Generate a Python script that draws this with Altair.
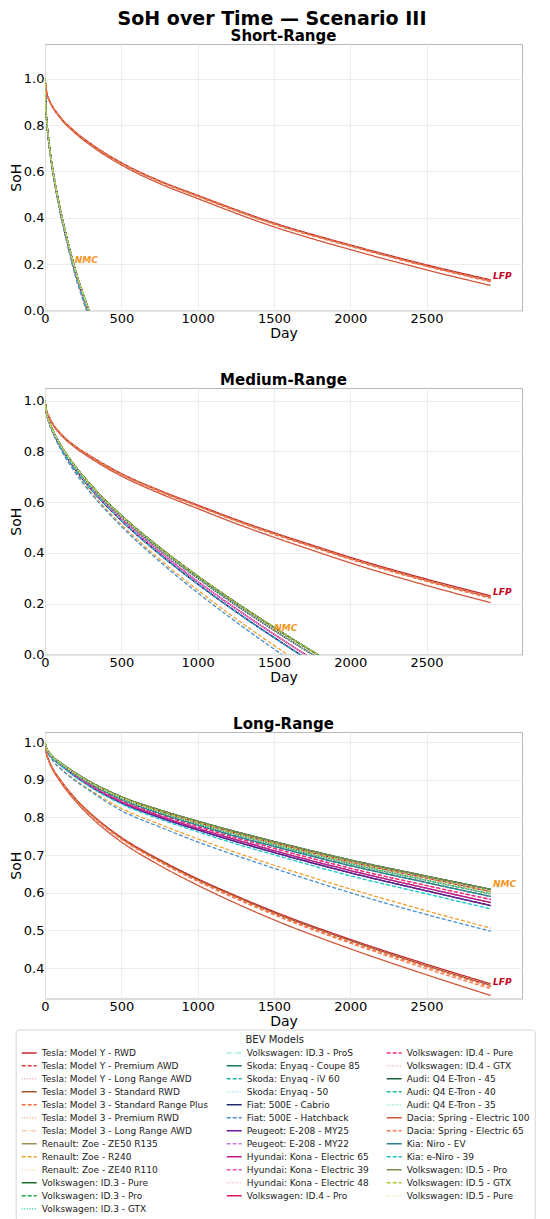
import altair as alt
import pandas as pd

# ------------------------------------------------------------------ series
MODELS = [
    "Tesla: Model Y - RWD", "Tesla: Model Y - Premium AWD", "Tesla: Model Y - Long Range AWD",
    "Tesla: Model 3 - Standard RWD", "Tesla: Model 3 - Standard Range Plus",
    "Tesla: Model 3 - Premium RWD", "Tesla: Model 3 - Long Range AWD",
    "Renault: Zoe - ZE50 R135", "Renault: Zoe - R240", "Renault: Zoe - ZE40 R110",
    "Volkswagen: ID.3 - Pure", "Volkswagen: ID.3 - Pro", "Volkswagen: ID.3 - GTX",
    "Volkswagen: ID.3 - ProS", "Skoda: Enyaq - Coupe 85", "Skoda: Enyaq - iV 60",
    "Skoda: Enyaq - 50", "Fiat: 500E - Cabrio", "Fiat: 500E - Hatchback",
    "Peugeot: E-208 - MY25", "Peugeot: E-208 - MY22", "Hyundai: Kona - Electric 65",
    "Hyundai: Kona - Electric 39", "Hyundai: Kona - Electric 48", "Volkswagen: ID.4 - Pro",
    "Volkswagen: ID.4 - Pure", "Volkswagen: ID.4 - GTX", "Audi: Q4 E-Tron - 45",
    "Audi: Q4 E-Tron - 40", "Audi: Q4 E-Tron - 35", "Dacia: Spring - Electric 100",
    "Dacia: Spring - Electric 65", "Kia: Niro - EV", "Kia: e-Niro - 39",
    "Volkswagen: ID.5 - Pro", "Volkswagen: ID.5 - GTX", "Volkswagen: ID.5 - Pure",
]
COLORS = [
    "#c8282f", "#e8383f", "#f2a9b6", "#a8552d", "#f26b3a", "#f8b07c", "#f8cbae",
    "#a08a5a", "#f0a030", "#f4e09a", "#1e6b2e", "#20a84a", "#3ddc97", "#a4efcf",
    "#1a7a5e", "#20b3a6", "#9ee8f0", "#1f2a6e", "#4a8fc9", "#6a1b9a", "#c77be0",
    "#c2188b", "#f04fbf", "#f4b6e0", "#d81b60", "#f0306e", "#f7b0c6", "#17603a",
    "#20c080", "#80efd0", "#d0573c", "#f47c52", "#2b7f8e", "#19c3c8", "#7f8a4f",
    "#b5c43a", "#e1efa0",
]
DASHES = [
    "solid", "dash", "dot", "solid", "dash", "dot", "dashdot",
    "solid", "dash", "dot",
    "solid", "dash", "dot", "dashdot",
    "solid", "dash", "dot",
    "solid", "dash",
    "solid", "dash",
    "solid", "dash", "dot",
    "solid", "dash", "dot",
    "solid", "dash", "dot",
    "solid", "dash",
    "solid", "dash",
    "solid", "dash", "dot",
]
DASH_PATTERNS = {"solid": [1, 0], "dash": [4, 2], "dot": [1, 1.6], "dashdot": [5, 1.6, 1, 1.6]}

# ------------------------------------------------------------------ curves
# Short-Range
DAYS_S_LFP = [0, 10, 25, 50, 100, 200, 300, 500, 750, 1000, 1500, 2000, 2500, 2920]
S_LFP_A = [1.0, 0.945, 0.912, 0.880, 0.835, 0.770, 0.720, 0.638, 0.560, 0.497, 0.378, 0.283, 0.197, 0.132]
S_LFP_B = [1.0, 0.945, 0.912, 0.879, 0.834, 0.769, 0.719, 0.636, 0.558, 0.495, 0.375, 0.280, 0.193, 0.128]
S_LFP_C = [1.0, 0.945, 0.911, 0.879, 0.834, 0.768, 0.717, 0.635, 0.556, 0.492, 0.372, 0.277, 0.190, 0.124]
S_LFP_D = [1.0, 0.943, 0.910, 0.877, 0.830, 0.764, 0.712, 0.628, 0.548, 0.483, 0.361, 0.263, 0.175, 0.108]
DAYS_S_NMC = [0, 5, 10, 25, 50, 75, 100, 150, 200, 250, 300]
S_NMC_A = [1.0, 0.880, 0.830, 0.730, 0.612, 0.518, 0.436, 0.296, 0.172, 0.071, -0.024]
S_NMC_B = [1.0, 0.878, 0.827, 0.726, 0.606, 0.511, 0.428, 0.285, 0.160, 0.057, -0.039]
S_NMC_C = [1.0, 0.876, 0.825, 0.722, 0.600, 0.504, 0.419, 0.275, 0.147, 0.043, -0.055]

# Medium-Range
DAYS_M_LFP = [0, 10, 25, 50, 100, 200, 300, 500, 750, 1000, 1250, 1500, 1750, 2000, 2500, 2920]
M_LFP_A = [1.0, 0.962, 0.938, 0.910, 0.872, 0.820, 0.781, 0.713, 0.647, 0.589, 0.532, 0.480, 0.431, 0.383, 0.297, 0.231]
M_LFP_B = [1.0, 0.962, 0.938, 0.909, 0.871, 0.819, 0.780, 0.711, 0.645, 0.586, 0.529, 0.477, 0.427, 0.379, 0.292, 0.226]
M_LFP_C = [1.0, 0.962, 0.937, 0.909, 0.870, 0.818, 0.778, 0.709, 0.642, 0.584, 0.526, 0.473, 0.424, 0.375, 0.288, 0.221]
M_LFP_D = [1.0, 0.961, 0.936, 0.907, 0.868, 0.814, 0.773, 0.703, 0.635, 0.575, 0.516, 0.462, 0.411, 0.361, 0.272, 0.204]
DAYS_M_NMC = [0, 10, 25, 50, 100, 200, 300, 500, 750, 1000, 1250, 1500, 1750, 2000]
M_NMC_A = [1.0, 0.952, 0.922, 0.885, 0.828, 0.740, 0.668, 0.548, 0.422, 0.309, 0.205, 0.107, 0.013, -0.078]
M_NMC_B = [1.0, 0.951, 0.921, 0.884, 0.826, 0.737, 0.664, 0.543, 0.415, 0.301, 0.195, 0.096, 0.001, -0.091]
M_NMC_C = [1.0, 0.951, 0.920, 0.882, 0.823, 0.732, 0.658, 0.534, 0.405, 0.288, 0.181, 0.080, -0.017, -0.110]
M_NMC_D = [1.0, 0.950, 0.918, 0.880, 0.820, 0.728, 0.653, 0.528, 0.396, 0.278, 0.169, 0.067, -0.031, -0.127]
M_NMC_E = [1.0, 0.948, 0.916, 0.876, 0.814, 0.719, 0.641, 0.512, 0.376, 0.254, 0.141, 0.036, -0.066, -0.164]
M_NMC_F = [1.0, 0.947, 0.915, 0.874, 0.812, 0.715, 0.636, 0.505, 0.367, 0.243, 0.129, 0.022, -0.081, -0.180]

# Long-Range
DAYS_L = [0, 10, 25, 50, 100, 200, 300, 500, 750, 1000, 1250, 1500, 2000, 2500, 2920]
L_LFP_A = [1.0, 0.970, 0.952, 0.930, 0.900, 0.850, 0.810, 0.747, 0.688, 0.637, 0.592, 0.550, 0.476, 0.410, 0.358]
L_LFP_B = [1.0, 0.970, 0.952, 0.930, 0.899, 0.849, 0.809, 0.745, 0.686, 0.635, 0.590, 0.547, 0.473, 0.406, 0.354]
L_LFP_C = [1.0, 0.970, 0.951, 0.929, 0.899, 0.848, 0.808, 0.744, 0.684, 0.632, 0.587, 0.544, 0.469, 0.403, 0.350]
L_LFP_D = [1.0, 0.969, 0.951, 0.929, 0.898, 0.847, 0.806, 0.742, 0.682, 0.630, 0.584, 0.541, 0.466, 0.398, 0.345]
L_LFP_E = [1.0, 0.969, 0.950, 0.927, 0.895, 0.843, 0.801, 0.735, 0.673, 0.620, 0.572, 0.528, 0.451, 0.382, 0.327]
L_NMC_1 = [1.0, 0.984, 0.974, 0.962, 0.946, 0.918, 0.894, 0.855, 0.820, 0.790, 0.762, 0.736, 0.687, 0.644, 0.609]
L_NMC_2 = [1.0, 0.984, 0.974, 0.961, 0.945, 0.917, 0.892, 0.853, 0.817, 0.787, 0.758, 0.732, 0.682, 0.639, 0.603]
L_NMC_3 = [1.0, 0.984, 0.973, 0.961, 0.944, 0.915, 0.891, 0.851, 0.814, 0.783, 0.755, 0.728, 0.677, 0.633, 0.597]
L_NMC_4 = [1.0, 0.983, 0.973, 0.960, 0.943, 0.914, 0.889, 0.848, 0.811, 0.780, 0.750, 0.723, 0.672, 0.627, 0.590]
L_NMC_5 = [1.0, 0.983, 0.972, 0.959, 0.942, 0.912, 0.887, 0.845, 0.808, 0.776, 0.746, 0.718, 0.665, 0.619, 0.582]
L_NMC_6 = [1.0, 0.983, 0.972, 0.959, 0.941, 0.911, 0.884, 0.842, 0.804, 0.771, 0.741, 0.712, 0.659, 0.612, 0.574]
L_NMC_7 = [1.0, 0.982, 0.971, 0.958, 0.940, 0.909, 0.882, 0.839, 0.800, 0.767, 0.736, 0.707, 0.653, 0.605, 0.566]
L_NMC_8 = [1.0, 0.982, 0.971, 0.957, 0.939, 0.907, 0.880, 0.836, 0.796, 0.762, 0.730, 0.701, 0.645, 0.597, 0.557]
L_NMC_9 = [1.0, 0.980, 0.967, 0.952, 0.931, 0.899, 0.872, 0.824, 0.782, 0.743, 0.707, 0.673, 0.610, 0.552, 0.506]
L_NMC_10 = [1.0, 0.980, 0.967, 0.951, 0.930, 0.897, 0.869, 0.818, 0.775, 0.735, 0.699, 0.665, 0.600, 0.542, 0.498]

PROFILES = {
    "S_LFP_A": (DAYS_S_LFP, S_LFP_A), "S_LFP_B": (DAYS_S_LFP, S_LFP_B),
    "S_LFP_C": (DAYS_S_LFP, S_LFP_C), "S_LFP_D": (DAYS_S_LFP, S_LFP_D),
    "S_NMC_A": (DAYS_S_NMC, S_NMC_A), "S_NMC_B": (DAYS_S_NMC, S_NMC_B), "S_NMC_C": (DAYS_S_NMC, S_NMC_C),
    "M_LFP_A": (DAYS_M_LFP, M_LFP_A), "M_LFP_B": (DAYS_M_LFP, M_LFP_B),
    "M_LFP_C": (DAYS_M_LFP, M_LFP_C), "M_LFP_D": (DAYS_M_LFP, M_LFP_D),
    "M_NMC_A": (DAYS_M_NMC, M_NMC_A), "M_NMC_B": (DAYS_M_NMC, M_NMC_B), "M_NMC_C": (DAYS_M_NMC, M_NMC_C),
    "M_NMC_D": (DAYS_M_NMC, M_NMC_D), "M_NMC_E": (DAYS_M_NMC, M_NMC_E), "M_NMC_F": (DAYS_M_NMC, M_NMC_F),
    "L_LFP_A": (DAYS_L, L_LFP_A), "L_LFP_B": (DAYS_L, L_LFP_B), "L_LFP_C": (DAYS_L, L_LFP_C),
    "L_LFP_D": (DAYS_L, L_LFP_D), "L_LFP_E": (DAYS_L, L_LFP_E),
    "L_NMC_1": (DAYS_L, L_NMC_1), "L_NMC_2": (DAYS_L, L_NMC_2), "L_NMC_3": (DAYS_L, L_NMC_3),
    "L_NMC_4": (DAYS_L, L_NMC_4), "L_NMC_5": (DAYS_L, L_NMC_5), "L_NMC_6": (DAYS_L, L_NMC_6),
    "L_NMC_7": (DAYS_L, L_NMC_7), "L_NMC_8": (DAYS_L, L_NMC_8), "L_NMC_9": (DAYS_L, L_NMC_9),
    "L_NMC_10": (DAYS_L, L_NMC_10),
}

# which curve each model follows in each panel (same order as MODELS)
SHORT_CURVE = [
    "S_LFP_A", "S_NMC_A", "S_NMC_A", "S_LFP_B", "S_LFP_C", "S_NMC_A", "S_NMC_A",
    "S_NMC_B", "S_NMC_C", "S_NMC_B", "S_NMC_A", "S_NMC_A", "S_NMC_A", "S_NMC_A",
    "S_NMC_A", "S_NMC_B", "S_NMC_B", "S_NMC_B", "S_NMC_C", "S_NMC_B", "S_NMC_B",
    "S_NMC_A", "S_NMC_B", "S_NMC_B", "S_NMC_A", "S_NMC_A", "S_NMC_A", "S_NMC_A",
    "S_NMC_A", "S_NMC_A", "S_LFP_D", "S_LFP_B", "S_NMC_A", "S_NMC_B", "S_NMC_A",
    "S_NMC_A", "S_NMC_A",
]
MEDIUM_CURVE = [
    "M_LFP_A", "M_NMC_B", "M_NMC_A", "M_LFP_B", "M_LFP_C", "M_NMC_B", "M_NMC_A",
    "M_NMC_C", "M_NMC_E", "M_NMC_D", "M_NMC_A", "M_NMC_A", "M_NMC_A", "M_NMC_A",
    "M_NMC_A", "M_NMC_B", "M_NMC_C", "M_NMC_D", "M_NMC_F", "M_NMC_D", "M_NMC_C",
    "M_NMC_C", "M_NMC_C", "M_NMC_C", "M_NMC_B", "M_NMC_B", "M_NMC_B", "M_NMC_A",
    "M_NMC_A", "M_NMC_B", "M_LFP_D", "M_LFP_B", "M_NMC_B", "M_NMC_D", "M_NMC_A",
    "M_NMC_A", "M_NMC_B",
]
LONG_CURVE = [
    "L_LFP_A", "L_NMC_4", "L_NMC_2", "L_LFP_B", "L_LFP_C", "L_NMC_3", "L_NMC_2",
    "L_NMC_6", "L_NMC_9", "L_NMC_7", "L_NMC_1", "L_NMC_1", "L_NMC_2", "L_NMC_1",
    "L_NMC_3", "L_NMC_4", "L_NMC_8", "L_NMC_7", "L_NMC_10", "L_NMC_7", "L_NMC_6",
    "L_NMC_6", "L_NMC_5", "L_NMC_5", "L_NMC_2", "L_NMC_5", "L_NMC_3", "L_NMC_1",
    "L_NMC_3", "L_NMC_4", "L_LFP_E", "L_LFP_D", "L_NMC_4", "L_NMC_8", "L_NMC_1",
    "L_NMC_2", "L_NMC_3",
]

PANELS = ["Short-Range", "Medium-Range", "Long-Range"]
Y_DOMAINS = [[0.0, 1.15], [0.0, 1.05], [0.319, 1.027]]
Y_TICKS = [[0.0, 0.2, 0.4, 0.6, 0.8, 1.0], [0.0, 0.2, 0.4, 0.6, 0.8, 1.0],
           [0.4, 0.5, 0.6, 0.7, 0.8, 0.9, 1.0]]
X_TICKS = [0, 500, 1000, 1500, 2000, 2500]

# chemistry labels: panel, label, day, soh
ANN_PANEL = ["Short-Range", "Short-Range", "Medium-Range", "Medium-Range", "Long-Range", "Long-Range"]
ANN_LABEL = ["NMC", "LFP", "NMC", "LFP", "NMC", "LFP"]
ANN_DAY = [195, 2935, 1502, 2935, 2935, 2935]
ANN_SOH = [0.22, 0.148, 0.103, 0.245, 0.624, 0.363]
NMC_COLOR = "#f5961e"
LFP_COLOR = "#c4001c"

# ------------------------------------------------------------------ build tables
rows = []
for pname, curves in zip(PANELS, [SHORT_CURVE, MEDIUM_CURVE, LONG_CURVE]):
    for i, (m, c) in enumerate(zip(MODELS, curves)):
        days, vals = PROFILES[c]
        for d, v in zip(days, vals):
            rows.append({"panel": pname, "model": m, "idx": i, "day": d, "soh": v})
df = pd.DataFrame(rows)
ann = pd.DataFrame({"panel": ANN_PANEL, "label": ANN_LABEL, "day": ANN_DAY, "soh": ANN_SOH})

# legend: vega fills columns top-to-bottom (13 rows); an empty slot closes column 2
# so the columns hold 13 / 12 / 12 entries like the reference
BLANK = " "
LEG_DOMAIN = MODELS[:25] + [BLANK] + MODELS[25:]
LEG_COLORS = COLORS[:25] + ["rgba(0,0,0,0)"] + COLORS[25:]
LEG_DASH = ([DASH_PATTERNS[d] for d in DASHES[:25]] + [[1, 0]]
            + [DASH_PATTERNS[d] for d in DASHES[25:]])

FONT = "DejaVu Sans"
legend = alt.Legend(
    title="BEV Models", orient="none", legendX=-29.3, legendY=985.5, columns=3,
    columnPadding=17, rowPadding=0, clipHeight=12.5, symbolType="stroke", symbolSize=225,
    symbolStrokeWidth=1.5, symbolLimit=60, labelFont=FONT, labelFontSize=9.0,
    labelColor="#222222", labelOffset=4, labelLimit=400, titleFont=FONT, titleFontSize=10,
    titleFontWeight="normal", titleColor="#222222", titleAnchor="middle", titlePadding=2,
    padding=5, strokeColor="#d6d6d6", fillColor="white", cornerRadius=3,
)


def make_panel(k):
    pname = PANELS[k]
    xs = alt.X("day:Q", scale=alt.Scale(domain=[0, 3125], nice=False, zero=False),
               axis=alt.Axis(values=X_TICKS, title="Day", format="d", labelFlush=False))
    ys = alt.Y("soh:Q", scale=alt.Scale(domain=Y_DOMAINS[k], nice=False, zero=False),
               axis=alt.Axis(values=Y_TICKS[k], title="SoH", format=".1f"))
    lines = alt.Chart(df[df.panel == pname]).mark_line(
        clip=True, strokeWidth=1.3, interpolate="monotone"
    ).encode(
        x=xs, y=ys,
        color=alt.Color("model:N", scale=alt.Scale(domain=LEG_DOMAIN, range=LEG_COLORS), legend=legend),
        strokeDash=alt.StrokeDash("model:N", scale=alt.Scale(domain=LEG_DOMAIN, range=LEG_DASH), legend=legend),
    )
    layers = [lines]
    for lab, col in (("NMC", NMC_COLOR), ("LFP", LFP_COLOR)):
        sub = ann[(ann.panel == pname) & (ann.label == lab)]
        layers.append(
            alt.Chart(sub).mark_text(
                font=FONT, fontSize=9, fontWeight="bold", fontStyle="italic",
                align="left", baseline="middle", color=col,
            ).encode(x=xs, y=ys, text="label:N")
        )
    return alt.layer(*layers).properties(
        width=477, height=266.5,
        title=alt.TitleParams(pname, font=FONT, fontSize=15, fontWeight="bold",
                              color="black", anchor="middle", offset=0),
    )


chart = alt.vconcat(make_panel(0), make_panel(1), make_panel(2), spacing=31).properties(
    title=alt.TitleParams("SoH over Time — Scenario III", font=FONT, fontSize=19,
                          fontWeight="bold", color="black", anchor="middle", offset=0),
    padding={"left": 0, "top": 1, "right": 0, "bottom": 0},
).configure_view(
    stroke="#b8b8b8", strokeWidth=1
).configure_axis(
    labelFont=FONT, titleFont=FONT, labelFontSize=13, titleFontSize=14,
    titleFontWeight="normal", labelColor="black", titleColor="black",
    grid=True, gridColor="#e9e9e9", gridWidth=0.8, ticks=False, domain=False,
).configure_axisX(
    labelPadding=2, titlePadding=1
).configure_axisY(
    labelPadding=1, titlePadding=0
)

chart.save("out.html", embed_options={"renderer": "svg", "actions": False})
